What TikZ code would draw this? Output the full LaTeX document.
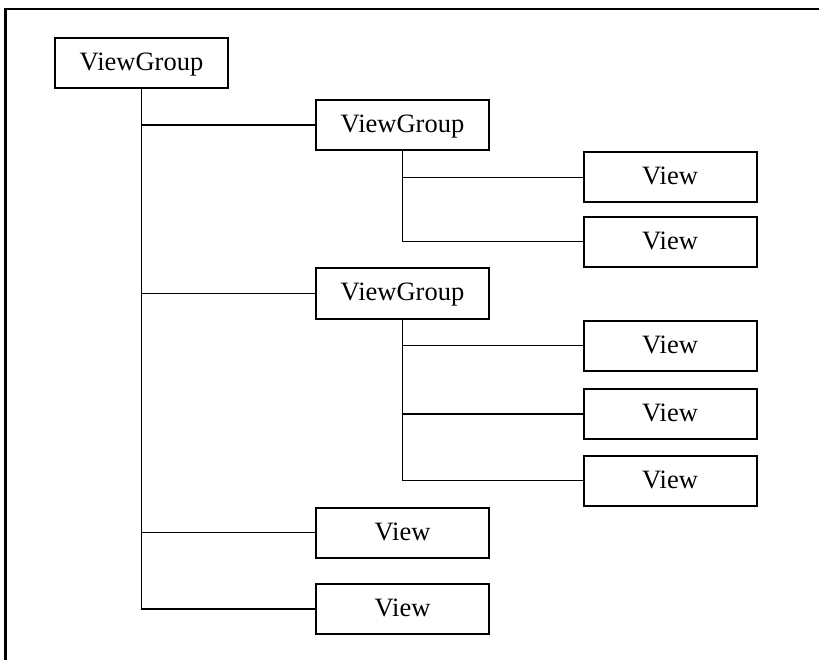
\documentclass[tikz,border=0pt]{standalone}
\usepackage{fontspec}
\setmainfont{Liberation Serif}
\begin{document}
\begin{tikzpicture}[x=1pt,y=-1pt,
  box/.style={draw,line width=2pt,minimum width=173pt,minimum height=50pt,inner sep=0pt,outer sep=0pt,text height=17pt,text depth=2pt,font=\fontsize{26.5}{30}\selectfont},
  conn/.style={line width=1.2pt}]
\useasboundingbox (0,0) rectangle (819,660);
\draw[line width=2.5pt] (5.7,660) -- (5.7,9) -- (819,9);
\node[box] (root) at (141.5,63.5) {ViewGroup};
\node[box] (vg1) at (402.5,125) {ViewGroup};
\node[box] (va) at (670,177.3) {View};
\node[box] (vb) at (670,241.7) {View};
\node[box] (vg2) at (402.5,293.5) {ViewGroup};
\node[box] (vc) at (670,345.6) {View};
\node[box] (vd) at (670,414) {View};
\node[box] (ve) at (670,480.8) {View};
\node[box] (vf) at (402.5,532.8) {View};
\node[box] (vgg) at (402.5,609) {View};
\foreach \c in {vg1,vg2,vf,vgg} \draw[conn] (root.south) |- (\c.west);
\foreach \c in {va,vb} \draw[conn] (vg1.south) |- (\c.west);
\foreach \c in {vc,vd,ve} \draw[conn] (vg2.south) |- (\c.west);
\end{tikzpicture}
\end{document}
